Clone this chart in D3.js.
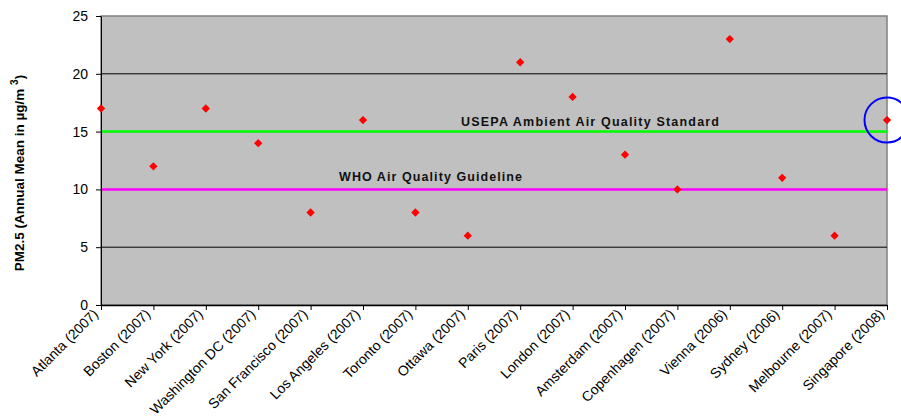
<!DOCTYPE html>
<html><head><meta charset="utf-8">
<script src="https://cdn.jsdelivr.net/npm/d3@7"></script>
<style>body{margin:0;background:#fff}svg{display:block;font-family:"Liberation Sans",Arial,sans-serif}</style>
</head><body>
<script>
const cities = ["Atlanta (2007)","Boston (2007)","New York (2007)","Washington DC (2007)","San Francisco (2007)","Los Angeles (2007)","Toronto (2007)","Ottawa (2007)","Paris (2007)","London (2007)","Amsterdam (2007)","Copenhagen (2007)","Vienna (2006)","Sydney (2006)","Melbourne (2007)","Singapore (2008)"];
const pm25 = [17,12,17,14,8,16,8,6,21,18,13,10,23,11,6,16];
const yTicks = [0,5,10,15,20,25];
const standards = [{name:"USEPA Ambient Air Quality Standard", value:15, color:"#00ff00"},
                   {name:"WHO Air Quality Guideline", value:10, color:"#ff00ff"}];
const highlight = "Singapore (2008)";

const FF='"Liberation Sans",Arial,sans-serif';
const W=901,H=419, m={l:101,r:14,t:16,b:114};
const svg=d3.select("body").append("svg").attr("width",W).attr("height",H);
const x=d3.scalePoint().domain(cities).range([m.l,W-m.r]).padding(0);
const y=d3.scaleLinear().domain([0,25]).range([H-m.b,m.t]);

svg.append("rect").attr("x",m.l).attr("y",m.t).attr("width",W-m.r-m.l).attr("height",H-m.b-m.t)
  .attr("fill","#c0c0c0").attr("stroke","#808080").attr("stroke-width",1.5);

// gridlines
svg.append("g").selectAll("line").data(yTicks.filter(d=>d>0&&d<25)).join("line")
  .attr("x1",m.l).attr("x2",W-m.r).attr("y1",d=>y(d)).attr("y2",d=>y(d))
  .attr("stroke","#000").attr("stroke-width",1);

// standard lines
svg.append("g").selectAll("line").data(standards).join("line")
  .attr("x1",m.l).attr("x2",W-m.r).attr("y1",d=>y(d.value)).attr("y2",d=>y(d.value))
  .attr("stroke",d=>d.color).attr("stroke-width",2.5);
svg.append("text").attr("x",590).attr("y",y(15)-5.5).attr("text-anchor","middle")
  .attr("font-size",12.5).attr("font-weight","bold").attr("fill","#111").attr("font-family",FF)
  .attr("textLength",258).attr("lengthAdjust","spacing").text(standards[0].name);
svg.append("text").attr("x",430.5).attr("y",y(10)-8.5).attr("text-anchor","middle")
  .attr("font-size",12.5).attr("font-weight","bold").attr("fill","#111").attr("font-family",FF)
  .attr("textLength",183).attr("lengthAdjust","spacing").text(standards[1].name);

// y axis
const ya=svg.append("g").attr("transform",`translate(${m.l},0)`)
  .call(d3.axisLeft(y).tickValues(yTicks).tickSize(5).tickPadding(8).tickSizeOuter(0));
ya.select(".domain").attr("stroke","#000");
ya.selectAll("text").attr("font-size",14).attr("fill","#000").attr("font-family",FF);

// x axis
const xa=svg.append("g").attr("transform",`translate(0,${H-m.b})`)
  .call(d3.axisBottom(x).tickSize(5).tickSizeOuter(0).tickFormat(""));
xa.select(".domain").attr("stroke","#000").attr("stroke-width",1.5);
svg.append("g").selectAll("text").data(cities).join("text")
  .attr("transform",d=>`translate(${x(d)-2},${H-m.b+10}) rotate(-45)`)
  .attr("text-anchor","end").attr("font-size",14).attr("fill","#000").attr("font-family",FF).text(d=>d);

// points
const sym=d3.symbol().type(d3.symbolDiamond2).size(44);
svg.append("g").selectAll("path").data(cities).join("path")
  .attr("transform",(d,i)=>`translate(${x(d)},${y(pm25[i])})`)
  .attr("d",sym).attr("fill","#ff0000");

// highlight circle
svg.append("circle").attr("cx",x(highlight)).attr("cy",y(pm25[cities.indexOf(highlight)]))
  .attr("r",22.5).attr("fill","none").attr("stroke","#0000ff").attr("stroke-width",2);

// y label
const yl=svg.append("text").attr("transform",`translate(24,173) rotate(-90)`).attr("text-anchor","middle")
  .attr("font-size",13.5).attr("font-weight","bold").attr("fill","#000").attr("font-family",FF);
yl.append("tspan").text("PM2.5 (Annual Mean in µg/m ");
yl.append("tspan").attr("dy",-6).attr("font-size",10).text("3");
yl.append("tspan").attr("dy",6).text(")");
</script>
</body></html>
